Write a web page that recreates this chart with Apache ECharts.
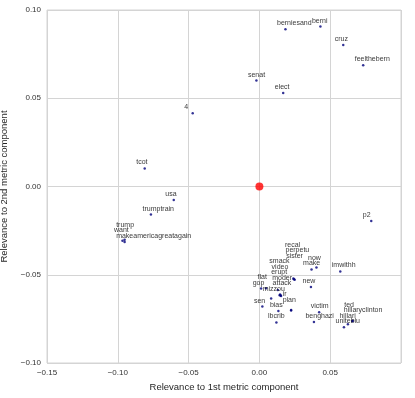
<!DOCTYPE html>
<html>
<head>
<meta charset="utf-8">
<script src="https://cdn.jsdelivr.net/npm/echarts@6/dist/echarts.min.js"></script>
<style>
  html, body { margin: 0; padding: 0; background: #fff; }
  #chart { width: 415px; height: 398px; }
</style>
</head>
<body>
<div id="chart"></div>
<script>
const words = ['berniesand', 'berni', 'cruz', 'feelthebern', 'senat', 'elect', '4',
    'tcot', 'usa', 'trumptrain', 'trump', 'want', 'makeamericagreatagain', 'p2',
    'imwithh', 'make', 'now', 'sister', 'perpetu', 'recal', 'moder',
    'video', 'attack', 'erupt', 'bias', 'smack', 'new', 'flat', 'gop',
    'mizzou', 'sen', 'ir', 'plan', 'victim', 'lbcrib', 'benghazi',
    'uniteblu', 'hillaryclinton', 'ted', 'hillari']
const xValues = [0.0184, 0.0431, 0.0592, 0.0733, -0.0021, 0.0168, -0.0471,
    -0.0810, -0.0605, -0.0766, -0.0952, -0.0967, -0.0952, 0.0790,
    0.0571, 0.0368, 0.0403, 0.0249, 0.0244, 0.0240, 0.0150,
    0.0146, 0.0153, 0.0143, 0.0134, 0.0130, 0.0364, 0.0047, 0.0012,
    0.0083, 0.0021, 0.0224, 0.0224, 0.0422, 0.0120, 0.0385,
    0.0597, 0.0656, 0.0659, 0.0625]
const yValues = [0.0891, 0.0906, 0.0802, 0.0687, 0.0600, 0.0530, 0.0415,
    0.0102, -0.0076, -0.0159, -0.0302, -0.0307, -0.0314, -0.0196,
    -0.0481, -0.0470, -0.0459, -0.0528, -0.0525, -0.0521, -0.0618,
    -0.0612, -0.0621, -0.0616, -0.0706, -0.0587, -0.0569, -0.0576, -0.0578,
    -0.0634, -0.0680, -0.0700, -0.0702, -0.0713, -0.0770, -0.0767,
    -0.0798, -0.0763, -0.0760, -0.0781]
const origin = [0, 0]
const xTicks = [-0.15, -0.10, -0.05, 0.00, 0.05, 0.10]
const yTicks = [-0.10, -0.05, 0.00, 0.05, 0.10]

const FONT = 'Liberation Sans, Arial, sans-serif'
const fmt = v => (v < 0 ? '\u2212' : '') + Math.abs(v).toFixed(2)

const myChart = echarts.init(document.getElementById('chart'))

const points = words.map((w, i) => ({ name: w, value: [xValues[i], yValues[i]] }))

myChart.setOption({
    animation: false,
    textStyle: { fontFamily: FONT },
    grid: {
        left: 47,
        right: 14,
        top: 10,
        bottom: 35,
        containLabel: false,
        outerBoundsMode: 'none',
        show: true,
        borderColor: '#d4d4d4',
        borderWidth: 1
    },
    xAxis: {
        type: 'value',
        min: xTicks[0],
        max: xTicks[xTicks.length - 1],
        interval: 0.05,
        name: 'Relevance to 1st metric component',
        nameLocation: 'middle',
        nameGap: 18,
        nameTextStyle: { fontSize: 9.5, color: '#262626' },
        axisLine: { show: false },
        axisTick: { show: false },
        axisLabel: { fontSize: 8, color: '#333', margin: 6, showMaxLabel: false, formatter: fmt },
        splitLine: { show: true, lineStyle: { color: '#d4d4d4', width: 1 } }
    },
    yAxis: {
        type: 'value',
        min: yTicks[0],
        max: yTicks[yTicks.length - 1],
        interval: 0.05,
        name: 'Relevance to 2nd metric component',
        nameLocation: 'middle',
        nameGap: 31,
        nameTextStyle: { fontSize: 9.5, color: '#262626' },
        axisLine: { show: false },
        axisTick: { show: false },
        axisLabel: { fontSize: 8, color: '#333', margin: 6, formatter: fmt },
        splitLine: { show: true, lineStyle: { color: '#d4d4d4', width: 1 } }
    },
    series: [
        {
            type: 'scatter',
            symbolSize: 2.5,
            itemStyle: { color: '#00007a' },
            data: points,
            label: {
                show: true,
                formatter: '{b}',
                position: [-7.2, -4.7],
                align: 'left',
                verticalAlign: 'middle',
                fontSize: 7,
                color: '#000',
                fontFamily: FONT
            }
        },
        {
            type: 'scatter',
            symbolSize: 8,
            itemStyle: { color: '#ff0000' },
            data: [origin]
        }
    ]
})

// simple vertical de-overlap of the word labels, bottom ones first, pushing upward
const ctx = document.createElement('canvas').getContext('2d')
ctx.font = '7px ' + FONT
const H = 5.5
const boxes = points.map((p, i) => {
    const px = myChart.convertToPixel({ seriesIndex: 0 }, p.value)
    const x0 = px[0] - 8.5
    return { i: i, x0: x0, x1: x0 + ctx.measureText(p.name).width, y: px[1] - 6 }
})
const placed = []
const shifts = []
boxes.slice().sort((a, b) => b.y - a.y).forEach(b => {
    let y = b.y
    let moved = true
    while (moved) {
        moved = false
        for (const p of placed) {
            if (b.x0 < p.x1 && b.x1 > p.x0 && Math.abs(y - p.y) < H) {
                y = p.y - H
                moved = true
            }
        }
    }
    placed.push({ x0: b.x0, x1: b.x1, y: y })
    shifts[b.i] = y - b.y
})

myChart.setOption({
    series: [{
        labelLayout: function (params) {
            return { dy: shifts[params.dataIndex] || 0 }
        }
    }]
})
</script>
</body>
</html>
